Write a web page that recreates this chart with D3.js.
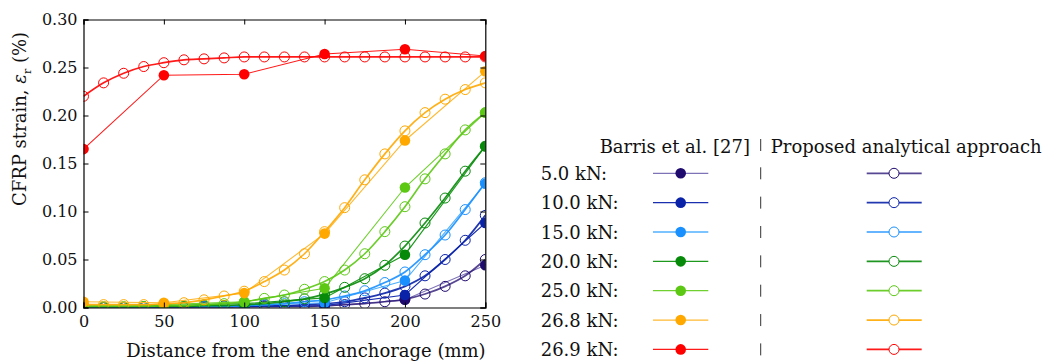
<!DOCTYPE html>
<html>
<head>
<meta charset="utf-8">
<script src="https://cdn.jsdelivr.net/npm/d3@7"></script>
<style>
  body { margin: 0; background: #fff; }
  text { font-family: "DejaVu Serif", "Liberation Serif", serif; fill: #111; }
</style>
</head>
<body>
<div id="container"></div>
<script>
let w = 1048;
let h = 363;

// load cases and legend labels
let loadLabels = ["5.0 kN:", "10.0 kN:", "15.0 kN:", "20.0 kN:", "25.0 kN:", "26.8 kN:", "26.9 kN:"];
let colors = ["#1f0a6e", "#0a22a8", "#1a90ff", "#078a0a", "#5cc814", "#ffa800", "#ff0000"];
let lineColors = ["#7f73b8", "#1a2fb0", "#4fb0ff", "#1d9a1d", "#70d030", "#ffb930", "#ff1a1a"];

// measured positions (mm) - Barris et al. [27]
let expX = [0, 50, 100, 150, 200, 250];
let exp5 = [0.000, 0.000, 0.000, 0.001, 0.008, 0.044];
let exp10 = [0.000, 0.000, 0.001, 0.002, 0.013, 0.088];
let exp15 = [0.000, 0.001, 0.002, 0.005, 0.028, 0.129];
let exp20 = [0.001, 0.002, 0.004, 0.010, 0.055, 0.168];
let exp25 = [0.002, 0.003, 0.006, 0.020, 0.125, 0.203];
let exp268 = [0.006, 0.005, 0.015, 0.077, 0.174, 0.246];
let exp269 = [0.165, 0.242, 0.243, 0.264, 0.269, 0.262];

// analytical positions (mm)
let anaX = [0, 12.5, 25, 37.5, 50, 62.5, 75, 87.5, 100, 112.5, 125, 137.5, 150, 162.5, 175, 187.5, 200, 212.5, 225, 237.5, 250];
let ana5 = [0, 0, 0, 0, 0, 0, 0, 0, 0.001, 0.001, 0.001, 0.001, 0.002, 0.003, 0.004, 0.006, 0.0085, 0.014, 0.022, 0.033, 0.050];
let ana10 = [0, 0, 0, 0, 0, 0, 0.001, 0.001, 0.001, 0.002, 0.002, 0.003, 0.004, 0.006, 0.010, 0.015, 0.022, 0.033, 0.050, 0.070, 0.096];
let ana15 = [0, 0, 0, 0, 0.001, 0.001, 0.001, 0.001, 0.002, 0.003, 0.004, 0.006, 0.008, 0.012, 0.0175, 0.026, 0.037, 0.055, 0.0755, 0.102, 0.130];
let ana20 = [0, 0, 0, 0.001, 0.001, 0.001, 0.002, 0.002, 0.003, 0.004, 0.006, 0.009, 0.014, 0.021, 0.030, 0.044, 0.064, 0.088, 0.114, 0.142, 0.168];
let ana25 = [0.001, 0.001, 0.001, 0.001, 0.002, 0.002, 0.003, 0.004, 0.006, 0.0095, 0.013, 0.019, 0.027, 0.039, 0.056, 0.079, 0.105, 0.134, 0.160, 0.185, 0.203];
let ana268 = [0.003, 0.003, 0.003, 0.003, 0.004, 0.005, 0.008, 0.012, 0.017, 0.027, 0.039, 0.056, 0.079, 0.104, 0.133, 0.160, 0.184, 0.203, 0.217, 0.227, 0.234];
let ana269 = [0.220, 0.234, 0.244, 0.251, 0.255, 0.258, 0.259, 0.260, 0.261, 0.261, 0.261, 0.261, 0.261, 0.261, 0.261, 0.261, 0.261, 0.261, 0.261, 0.261, 0.261];

let expSeries = [exp5, exp10, exp15, exp20, exp25, exp268, exp269];
let anaSeries = [ana5, ana10, ana15, ana20, ana25, ana268, ana269];

let xTicks = [0, 50, 100, 150, 200, 250];
let yTicks = [0, 0.05, 0.10, 0.15, 0.20, 0.25, 0.30];

let headerExp = "Barris et al. [27]";
let headerAna = "Proposed analytical approach";

let fontSize = "18px";
let tickSize = "16px";

let viz = d3.select("#container")
  .append("svg")
    .attr("width", w)
    .attr("height", h)
    .style("background-color", "white");

// plot box
let plotL = 83.5, plotR = 485.3, plotT = 19.5, plotB = 307.5;

let xScale = d3.scaleLinear().domain([0, 250]).range([plotL, plotR]);
let yScale = d3.scaleLinear().domain([0, 0.30]).range([plotB, plotT]);

viz.append("clipPath").attr("id", "plotclip")
  .append("rect")
    .attr("x", plotL).attr("y", plotT)
    .attr("width", plotR - plotL).attr("height", plotB - plotT);

let plotGroup = viz.append("g").attr("clip-path", "url(#plotclip)");

let expLine = d3.line()
  .x(function(d){ return xScale(d.x); })
  .y(function(d){ return yScale(d.y); });

let anaLine = d3.line()
  .x(function(d){ return xScale(d.x); })
  .y(function(d){ return yScale(d.y); })
  .curve(d3.curveMonotoneX);

for (let i = 0; i < loadLabels.length; i++) {
  let expData = expX.map(function(x, j){ return {x: x, y: expSeries[i][j]}; });
  let anaData = anaX.map(function(x, j){ return {x: x, y: anaSeries[i][j]}; });

  let g = plotGroup.append("g").attr("class", "load");

  // experimental: thin line, filled markers
  g.append("path")
    .datum(expData)
    .attr("d", expLine)
    .attr("fill", "none")
    .attr("stroke", lineColors[i])
    .attr("stroke-width", 1.1);

  // analytical: thicker smooth line, open markers
  g.append("path")
    .datum(anaData)
    .attr("d", anaLine)
    .attr("fill", "none")
    .attr("stroke", colors[i])
    .attr("stroke-opacity", i == 0 ? 0.75 : 0.9)
    .attr("stroke-width", 1.7);

  g.selectAll(".open").data(anaData).enter()
    .append("circle")
      .attr("class", "open")
      .attr("cx", function(d){ return xScale(d.x); })
      .attr("cy", function(d){ return yScale(d.y); })
      .attr("r", 5)
      .attr("fill", "none")
      .attr("stroke", colors[i])
      .attr("stroke-width", 1);

  g.selectAll(".filled").data(expData).enter()
    .append("circle")
      .attr("class", "filled")
      .attr("cx", function(d){ return xScale(d.x); })
      .attr("cy", function(d){ return yScale(d.y); })
      .attr("r", 5.3)
      .attr("fill", colors[i]);
}

// axes with inward ticks, mirrored on all four sides
let xAxisB = d3.axisBottom(xScale).tickValues(xTicks).tickSize(-5).tickPadding(8).tickFormat(d3.format("d"));
let xAxisT = d3.axisTop(xScale).tickValues(xTicks).tickSize(-5).tickFormat("");
let yAxisL = d3.axisLeft(yScale).tickValues(yTicks).tickSize(-5).tickPadding(6).tickFormat(d3.format(".2f"));
let yAxisR = d3.axisRight(yScale).tickValues(yTicks).tickSize(-5).tickFormat("");

let gxb = viz.append("g").attr("transform", "translate(0," + plotB + ")").call(xAxisB);
let gxt = viz.append("g").attr("transform", "translate(0," + plotT + ")").call(xAxisT);
let gyl = viz.append("g").attr("transform", "translate(" + plotL + ",0)").call(yAxisL);
let gyr = viz.append("g").attr("transform", "translate(" + plotR + ",0)").call(yAxisR);

[gxb, gxt, gyl, gyr].forEach(function(ax){
  ax.attr("font-family", "DejaVu Serif").attr("font-size", tickSize);
  ax.select(".domain").attr("stroke", "#000").attr("stroke-width", 1.2);
  ax.selectAll(".tick line").attr("stroke", "#000").attr("stroke-width", 1);
  ax.selectAll(".tick text").attr("fill", "#111");
});

// axis titles
viz.append("text")
  .attr("x", 306)
  .attr("y", 357)
  .attr("text-anchor", "middle")
  .style("font-size", fontSize)
  .text("Distance from the end anchorage (mm)");

let yl = viz.append("text")
  .attr("transform", "translate(26," + 119 + ") rotate(-90)")
  .attr("text-anchor", "middle")
  .style("font-size", fontSize);
yl.append("tspan").text("CFRP strain, ");
yl.append("tspan").style("font-style", "italic").text("ε");
yl.append("tspan").attr("dy", 5).style("font-size", "11px").text("r");
yl.append("tspan").attr("dy", -5).text(" (%)");

// legend
let legend = viz.append("g").attr("class", "legend");
let rowY0 = 173.3, rowStep = 29.35;

legend.append("text").attr("x", 750).attr("y", 152.5).attr("text-anchor", "end")
  .style("font-size", fontSize).text(headerExp);
legend.append("line").attr("x1", 760.7).attr("x2", 760.7).attr("y1", 139).attr("y2", 151)
  .attr("stroke", "#333").attr("stroke-width", 1);
legend.append("text").attr("x", 770.7).attr("y", 152.5)
  .style("font-size", fontSize).text(headerAna);

loadLabels.forEach(function(label, i){
  let y = rowY0 + i * rowStep;
  let row = legend.append("g");
  row.append("text").attr("x", 540.7).attr("y", y + 6.5)
    .style("font-size", fontSize).text(label);
  row.append("line").attr("x1", 653).attr("x2", 708.3).attr("y1", y).attr("y2", y)
    .attr("stroke", lineColors[i]).attr("stroke-width", 1.3);
  row.append("circle").attr("cx", 680.7).attr("cy", y).attr("r", 5.3).attr("fill", colors[i]);
  row.append("line").attr("x1", 760.7).attr("x2", 760.7).attr("y1", y - 6).attr("y2", y + 6)
    .attr("stroke", "#333").attr("stroke-width", 1);
  row.append("line").attr("x1", 866.7).attr("x2", 921.7).attr("y1", y).attr("y2", y)
    .attr("stroke", colors[i]).attr("stroke-opacity", i == 0 ? 0.75 : 0.9).attr("stroke-width", 1.7);
  row.append("circle").attr("cx", 894).attr("cy", y).attr("r", 5)
    .attr("fill", "white").attr("stroke", colors[i]).attr("stroke-width", 1);
});
</script>
</body>
</html>
